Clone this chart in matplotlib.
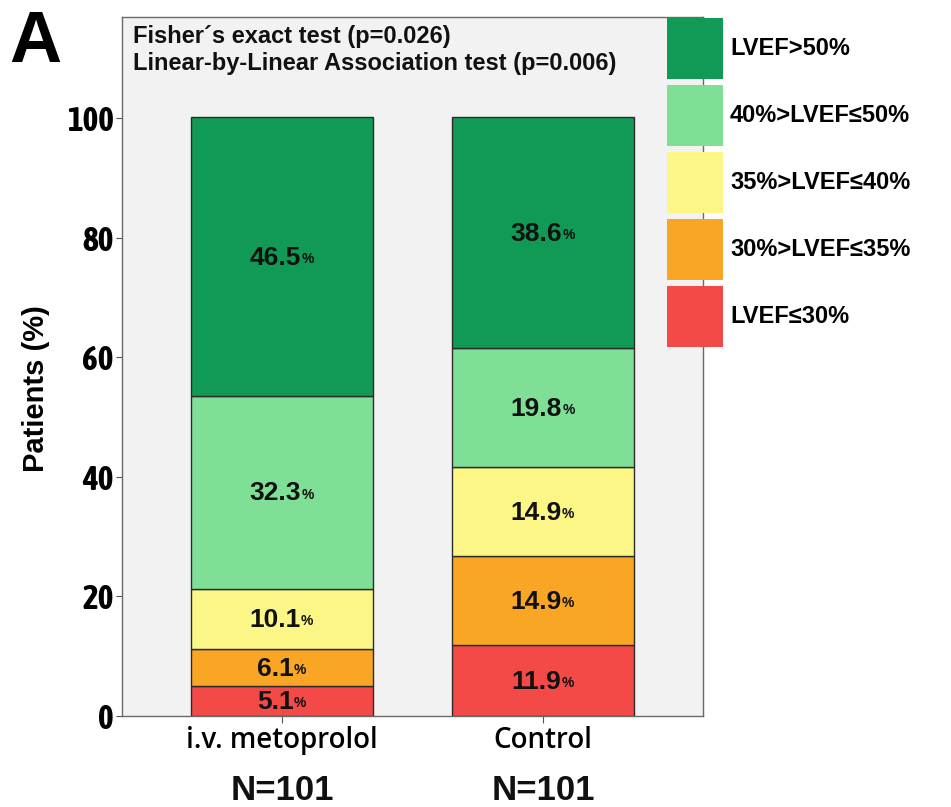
import matplotlib
matplotlib.use("Agg")
import matplotlib.pyplot as plt
from matplotlib import font_manager
import numpy as np

# LVEF category shares (%) per arm, bottom segment first
groups = ["i.v. metoprolol", "Control"]
n_labels = ["N=101", "N=101"]
categories = ["LVEF\u226430%", "30%>LVEF\u226435%", "35%>LVEF\u226440%",
              "40%>LVEF\u226450%", "LVEF>50%"]
metoprolol = [5.1, 6.1, 10.1, 32.3, 46.5]
control = [11.9, 14.9, 14.9, 19.8, 38.6]
colors = ["#F34A48", "#F8A623", "#FBF685", "#7FDF96", "#109A55"]
stats_text = ["Fisher\u00b4s exact test (p=0.026)",
              "Linear-by-Linear Association test (p=0.006)"]

wide = ["Liberation Sans", "DejaVu Sans"]
rounded = ["Open Sans", "Liberation Sans", "DejaVu Sans"]


def is_bold(w):
    return w in ("bold", "heavy", "black", "semibold", "demibold") or \
        (isinstance(w, int) and w >= 600)


# pick a condensed family that actually ships a bold face
cond = sorted({f.name for f in font_manager.fontManager.ttflist
               if ("Narrow" in f.name or "Condensed" in f.name) and is_bold(f.weight)})
narrow = (cond[:1] + wide) if cond else wide

fig = plt.figure(figsize=(9.51, 8.07), dpi=100)
ax = fig.add_axes([122 / 951, 1 - 716 / 807, (703 - 122) / 951, (716 - 17) / 807])
ax.set_facecolor("#F2F2F2")

values = np.array([metoprolol, control]).T
x = np.arange(len(groups))
bottom = np.zeros(len(groups))
for vals, col, cat in zip(values, colors, categories):
    ax.bar(x, vals, width=0.695, bottom=bottom, color=col, edgecolor="#2b2b2b",
           linewidth=1.0, label=cat, zorder=2)
    for xi, b, v in zip(x, bottom, vals):
        t = ax.annotate(f"{v:.1f}", xy=(xi, b + v / 2), xytext=(-5, -1),
                        textcoords="offset points", ha="center", va="center",
                        fontsize=19, fontweight="bold", family=wide,
                        color="#111111", zorder=3)
        ax.annotate("%", xy=(1, 0.16), xycoords=t, xytext=(0.3, 0),
                    textcoords="offset points", ha="left", va="bottom",
                    fontsize=10, fontweight="bold", family=wide, color="#111111",
                    zorder=3)
    bottom += vals

ax.set_xlim(-0.613, 1.613)
ax.set_ylim(0, 116.9)
ax.set_yticks([0, 20, 40, 60, 80, 100])
ax.set_yticklabels(["0", "20", "40", "60", "80", "100"], fontsize=24,
                   fontweight="bold", family=narrow)
ax.set_xticks(x)
ax.set_xticklabels(groups, fontsize=20, family=rounded, fontweight="semibold")
ax.tick_params(axis="y", length=4, width=0.8, color="#555555", pad=2)
ax.tick_params(axis="x", length=5, width=0.8, color="#555555", pad=2)
ax.set_ylabel("Patients (%)", fontsize=21, fontweight="bold", family=wide)
ax.yaxis.set_label_coords(-0.124, 0.469)
for sp in ax.spines.values():
    sp.set_color("#6a6a6a")
    sp.set_linewidth(1.0)

# test results in the upper left of the plot area
ax.text(0.019, 0.9628, stats_text[0], transform=ax.transAxes, ha="left",
        va="baseline", fontsize=17, fontweight="bold", family=wide, color="#111111")
ax.text(0.019, 0.9242, stats_text[1], transform=ax.transAxes, ha="left",
        va="baseline", fontsize=17, fontweight="bold", family=wide, color="#111111")

# group sizes under the tick labels
for xi, lab in zip(x, n_labels):
    ax.annotate(lab, xy=(xi, 0), xycoords=("data", "axes fraction"),
                xytext=(0, -54), textcoords="offset points", ha="center",
                va="center", fontsize=25, fontweight="bold", family=wide,
                color="#111111", annotation_clip=False)

fig.text(9 / 951, 1 - 62 / 807, "A", fontsize=52, fontweight="bold",
         family=wide, ha="left", va="baseline")

handles, labs = ax.get_legend_handles_labels()
leg = fig.legend(handles[::-1], labs[::-1], loc="upper left",
                 bbox_to_anchor=(667 / 951, 1 - 18 / 807), frameon=False,
                 prop={"size": 17, "weight": "bold", "family": wide},
                 handlelength=2.37, handleheight=3.6, labelspacing=0.254,
                 handletextpad=0.3, borderaxespad=0, borderpad=0)
for h in leg.legend_handles:
    h.set_edgecolor("none")

fig.savefig("out.png", dpi=100)
